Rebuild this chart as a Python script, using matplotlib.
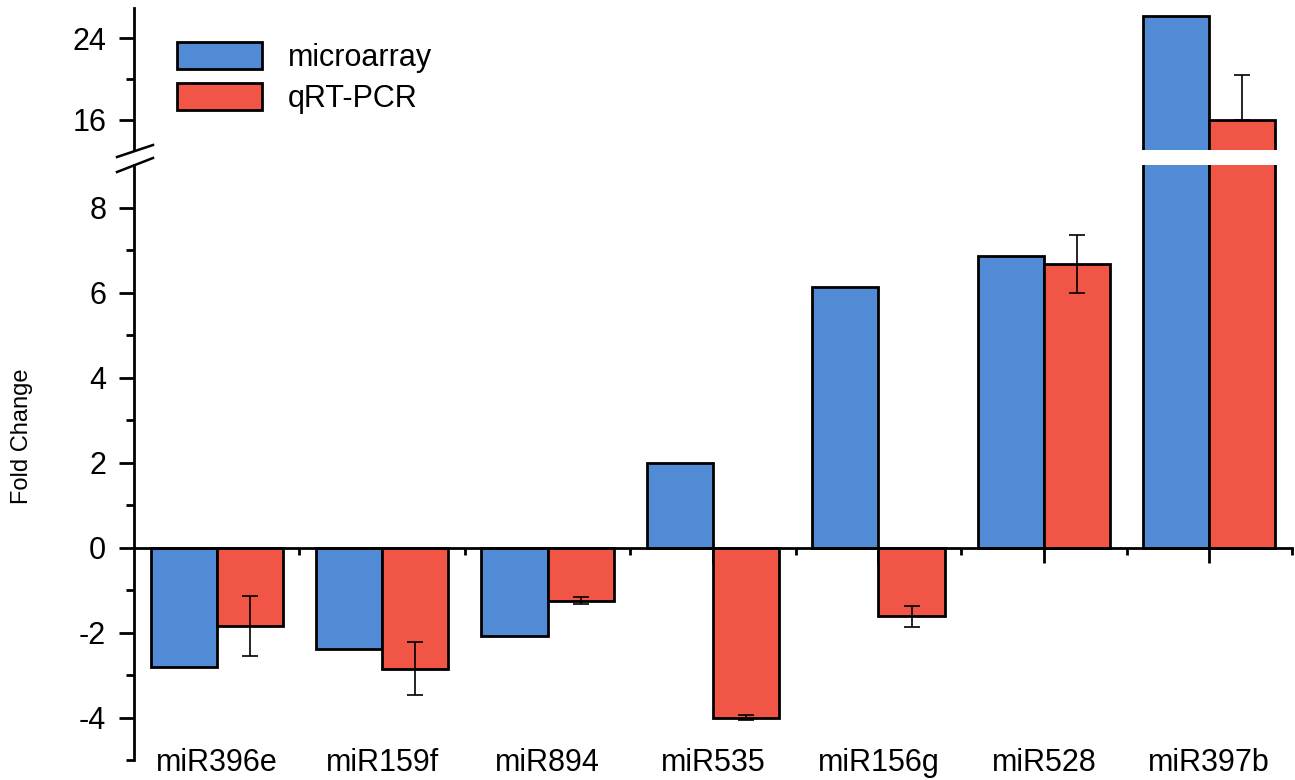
import numpy as np
import matplotlib.pyplot as plt
from matplotlib.lines import Line2D
from matplotlib.patches import Patch

plt.rcParams['font.family'] = ['Liberation Sans', 'DejaVu Sans']
plt.rcParams['axes.unicode_minus'] = False

mirnas = ['miR396e', 'miR159f', 'miR894', 'miR535', 'miR156g', 'miR528', 'miR397b']
microarray = [-2.8, -2.38, -2.08, 2.0, 6.12, 6.87, 26.2]
qrtpcr = [-1.85, -2.85, -1.25, -4.0, -1.62, 6.68, 16.0]
err_low = [0.7, 0.63, 0.08, 0.07, 0.25, 0.68, 0.0]
err_high = [0.7, 0.63, 0.08, 0.07, 0.25, 0.68, 4.4]

blue = '#528BD5'
red = '#F05545'

W, H = 1295, 780
fig = plt.figure(figsize=(W / 100, H / 100), dpi=100)

def px(x0, y0, x1, y1):
    # pixel box -> figure fraction rect
    return [x0 / W, 1 - y1 / H, (x1 - x0) / W, (y1 - y0) / H]

ax_lo = fig.add_axes(px(134, 165, 1292, 760))
ax_hi = fig.add_axes(px(134, 8, 1292, 150))

x = np.arange(len(mirnas))
w = 0.4
lw = 2.0

for ax in (ax_lo, ax_hi):
    ax.bar(x - w / 2, microarray, w, color=blue, edgecolor='black', linewidth=lw, zorder=2)
    ax.bar(x + w / 2, qrtpcr, w, color=red, edgecolor='black', linewidth=lw, zorder=2)
    ax.errorbar(x + w / 2, qrtpcr, yerr=[err_low, err_high], fmt='none',
                ecolor='black', elinewidth=1.2, capsize=6, capthick=1.2, zorder=3)
    ax.set_xlim(-0.5, 6.5)
    for s in ('top', 'right'):
        ax.spines[s].set_visible(False)
    ax.spines['left'].set_linewidth(lw)
    ax.tick_params(axis='y', which='major', direction='out', length=11, width=lw,
                   labelsize=22, pad=9)
    ax.tick_params(axis='y', which='minor', direction='out', length=6, width=lw)

ax_lo.set_ylim(-5, 9)
ax_lo.set_yticks([-4, -2, 0, 2, 4, 6, 8])
ax_lo.set_yticks([-5, -3, -1, 1, 3, 5, 7], minor=True)
ax_lo.spines['bottom'].set_position(('data', 0))
ax_lo.spines['bottom'].set_linewidth(lw)
ax_lo.set_xticks(x)
ax_lo.set_xticks(x + 0.5, minor=True)
ax_lo.tick_params(axis='x', which='major', direction='out', length=11, width=lw,
                  labelbottom=False)
ax_lo.tick_params(axis='x', which='minor', direction='out', length=5, width=lw)

for xi, name in zip(x, mirnas):
    ax_lo.text(xi, -5.27, name, ha='center', va='baseline', fontsize=22, clip_on=False)

ax_hi.set_ylim(13, 27)
ax_hi.set_yticks([16, 24])
ax_hi.set_yticks([20], minor=True)
ax_hi.spines['bottom'].set_visible(False)
ax_hi.set_xticks([])

# break marks on the y axis
for (x0, y0, x1, y1) in [(117, 157, 153, 145), (117, 172, 153, 158)]:
    fig.add_artist(Line2D([x0 / W, x1 / W], [1 - y0 / H, 1 - y1 / H],
                          transform=fig.transFigure, color='black', linewidth=1.8))

fig.text(22 / W, 1 - 436 / H, 'Fold Change', rotation=90, ha='center', va='center',
         fontsize=17)

handles = [Patch(facecolor=blue, edgecolor='black', linewidth=lw),
           Patch(facecolor=red, edgecolor='black', linewidth=lw)]
fig.legend(handles, ['microarray', 'qRT-PCR'], loc='upper left',
           bbox_to_anchor=(149 / W, 1 - 14 / H), frameon=False, fontsize=22,
           handlelength=2.8, handleheight=1.0, handletextpad=0.85, labelspacing=0.34)

fig.savefig('out.png', dpi=100)
